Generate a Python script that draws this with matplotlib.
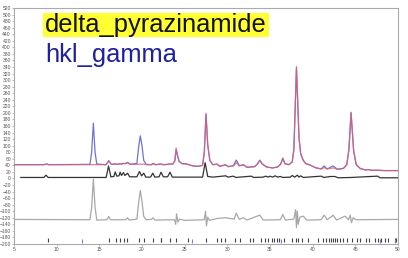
import matplotlib
matplotlib.use("Agg")
import matplotlib.pyplot as plt
from matplotlib.patches import Rectangle

plt.rcParams["font.family"] = ["Liberation Sans", "DejaVu Sans"]

# ── data (2theta in degrees, counts) ──────────────────────────────
CALC_X = [5.0, 8.5, 8.8, 9.1, 15.8, 16.1, 16.4, 16.9, 17.1, 17.45, 17.65,
          17.85, 18.05, 18.3, 18.6, 19.6, 19.8, 20.0, 20.2, 20.5, 21.1, 21.3,
          21.6, 22.2, 22.5, 23.0, 23.3, 23.6, 23.85, 24.0, 24.15, 24.35, 24.7,
          25.1, 25.5, 26.0, 26.6, 27.1, 27.3, 27.5, 27.7, 27.95, 28.3, 28.8,
          29.1, 29.8, 30.1, 30.7, 31.05, 31.4, 31.9, 32.3, 33.2, 33.55, 33.8,
          34.1, 34.6, 35.3, 35.9, 36.25, 36.5, 36.75, 37.2, 37.6, 37.8, 38.1,
          38.4, 38.6, 38.9, 39.2, 39.7, 40.3, 41.0, 41.35, 41.7, 42.4, 42.9,
          43.6, 44.0, 44.25, 44.5, 44.8, 45.1, 45.6, 46.2, 46.5, 46.9, 47.6,
          48.4, 49.2, 50.0]
CALC_Y = [42, 42, 44, 42, 42, 54, 43, 44, 43, 45, 44,
          46, 45, 48, 43, 43, 44, 43, 44, 42, 42, 45,
          42, 44, 42, 43, 44, 44, 55, 93, 72, 52, 45,
          44, 42, 38, 37, 40, 80, 199, 105, 55, 42, 43,
          37, 41, 36, 38, 48, 38, 41, 34, 36, 45, 55,
          44, 35, 32, 35, 43, 61, 45, 42, 50, 90, 341,
          125, 75, 55, 45, 41, 33, 29, 33, 29, 32, 28,
          30, 42, 90, 202, 85, 42, 30, 26, 27, 25, 25,
          24, 24, 24]

OBS_X = [5.0, 8.5, 8.8, 9.1, 13.9, 14.1, 14.3, 14.5, 14.7, 15.8, 16.1, 16.4,
         16.9, 17.1, 17.45, 17.65, 17.85, 18.05, 18.3, 18.6, 19.4, 19.6, 19.8,
         20.0, 20.2, 20.5, 21.1, 21.3, 21.6, 22.2, 22.5, 23.0, 23.3, 23.6,
         23.85, 24.0, 24.15, 24.35, 24.7, 25.1, 25.5, 26.0, 26.6, 27.1, 27.3,
         27.5, 27.7, 27.95, 28.3, 28.8, 29.1, 29.8, 30.1, 30.7, 31.05, 31.4,
         31.9, 32.3, 33.2, 33.55, 33.8, 34.1, 34.6, 35.3, 35.9, 36.25, 36.5,
         36.75, 37.2, 37.6, 37.8, 38.1, 38.4, 38.6, 38.9, 39.2, 39.7, 40.3,
         41.0, 41.35, 41.7, 42.4, 42.9, 43.6, 44.0, 44.25, 44.5, 44.8, 45.1,
         45.6, 46.2, 46.5, 46.9, 47.6, 48.4, 49.2, 50.0]
OBS_Y = [42, 42, 44, 42, 43, 80, 169, 80, 44, 42, 54, 43,
         44, 43, 45, 44, 46, 45, 49, 43, 46, 95, 130,
         100, 55, 43, 42, 46, 42, 44, 42, 43, 44, 44,
         53, 88, 70, 52, 45, 45, 42, 38, 37, 40, 78,
         195, 102, 55, 42, 44, 37, 42, 36, 39, 56, 39,
         42, 34, 36, 45, 56, 44, 35, 32, 35, 44, 62,
         45, 42, 50, 88, 338, 122, 75, 55, 45, 41, 33,
         29, 38, 29, 38, 28, 31, 42, 88, 200, 84, 42,
         30, 26, 27, 25, 25, 24, 24, 24]

PHASE_X = [5.8, 8.5, 8.75, 9.0, 15.8, 16.08, 16.35, 16.7, 16.86, 17.05, 17.3,
           17.44, 17.6, 17.83, 18.0, 18.3, 18.55, 19.4, 19.7, 19.95, 20.2,
           20.45, 21.0, 21.26, 21.5, 22.0, 22.23, 22.5, 23.0, 23.28, 23.55,
           27.1, 27.4, 27.7, 28.3, 29.8, 30.1, 30.7, 31.0, 32.8, 33.1, 34.2,
           34.5, 34.8, 35.0, 35.3, 35.6, 35.9, 36.2, 36.5, 37.4, 37.6, 37.9,
           38.2, 38.4, 38.6, 38.9, 41.0, 41.3, 42.1, 42.6, 43.0, 44.5, 47.6,
           47.9, 50.0]
PHASE_Y = [3, 3, 10, 3, 3, 38, 5, 6, 20, 7, 8,
           19, 9, 18, 9, 16, 5, 5, 21, 8, 16,
           4, 4, 16, 4, 5, 19, 5, 5, 19, 4,
           4, 48, 6, 4, 8, 4, 7, 3, 7, 3, 4,
           7, 4, 7, 4, 8, 4, 6, 3, 4, 9, 4,
           10, 4, 8, 3, 7, 3, 6, 6, 2, 3, 7,
           2, 2]

DIFF_X = [5.0, 13.9, 14.1, 14.3, 14.5, 14.7, 15.9, 16.1, 16.3, 18.1, 18.3,
          18.5, 19.4, 19.6, 19.8, 20.0, 20.2, 20.5, 21.1, 21.3, 21.5, 23.8,
          23.95, 24.05, 24.2, 24.4, 25.0, 27.3, 27.45, 27.55, 27.7, 27.9, 28.8,
          29.8, 30.8, 31.05, 31.4, 31.9, 32.3, 33.8, 34.2, 36.2, 36.5, 36.8,
          37.8, 38.0, 38.1, 38.2, 38.3, 38.5, 38.9, 39.3, 41.0, 41.35, 41.7,
          42.4, 42.8, 43.8, 44.2, 44.4, 44.55, 44.75, 45.1, 50.0]
DIFF_Y = [-125, -126, -88, -2, -88, -127, -126, -116, -126, -126, -120,
          -127, -124, -75, -37, -70, -116, -126, -125, -120, -127, -126,
          -140, -108, -133, -124, -128, -126, -100, -145, -118, -128, -122,
          -120, -124, -106, -125, -120, -127, -112, -127, -126, -110, -127,
          -124, -95, -150, -100, -140, -118, -115, -127, -126, -112, -126,
          -112, -127, -115, -126, -112, -135, -120, -126, -125]

TICKS_DELTA = [9.0, 16.1, 17.0, 17.45, 17.85, 18.3, 19.7, 20.2, 21.3, 22.2,
               22.25, 23.3, 24.0, 25.4, 27.45, 28.8, 29.3, 29.7, 30.9, 31.5,
               32.6, 33.0, 34.0, 34.4, 34.8, 35.2, 35.5, 35.8, 36.1, 36.6,
               37.6, 38.0, 38.3, 38.7, 39.4, 40.6, 41.2, 41.6, 41.9, 42.2,
               42.4, 42.6, 42.9, 43.2, 43.6, 44.0, 44.6, 45.2, 45.6, 46.2,
               46.6, 47.3, 47.6, 48.0, 48.5, 48.8, 49.6, 49.8]
TICKS_GAMMA = [13.0, 25.9, 36.3, 47.9, 49.7]
TICK_LEVEL = -187

X_TICKS = list(range(5, 51, 5))
Y_TICKS = list(range(-200, 521, 20))

# ── figure ────────────────────────────────────────────────────────
fig = plt.figure(figsize=(4.08, 2.58), dpi=100)
ax = fig.add_axes([14 / 408, 14 / 258, 384 / 408, 236 / 258])

ax.plot(OBS_X, OBS_Y, color="#7272d0", lw=0.9, zorder=3)
ax.plot(CALC_X, CALC_Y, color="#d8607a", lw=0.9, alpha=0.8, zorder=4)
ax.plot(PHASE_X, PHASE_Y, color="#333333", lw=0.9, zorder=3)
ax.plot(DIFF_X, DIFF_Y, color="#a8a8a8", lw=0.9, zorder=3)
ax.plot(TICKS_DELTA, [TICK_LEVEL] * len(TICKS_DELTA), ls="none",
        marker="|", ms=2.2, mew=0.8, color="#444444")
ax.plot(TICKS_GAMMA, [TICK_LEVEL - 4] * len(TICKS_GAMMA), ls="none",
        marker="|", ms=2.2, mew=0.8, color="#8080c0")

ax.set_xlim(5, 50)
ax.set_ylim(-200, 520)
ax.set_xticks(X_TICKS)
ax.set_yticks(Y_TICKS)
ax.tick_params(axis="both", length=1.2, width=0.4, colors="#888888",
               labelcolor="#555555", labelsize=3.6, pad=1)
for s in ax.spines.values():
    s.set_color("#aaaaaa")
    s.set_linewidth(0.8)

# legend block: yellow highlight + two phase names
fig.add_artist(Rectangle((43 / 408, 1 - 37 / 258), 226 / 408, 24 / 258,
                         transform=fig.transFigure, facecolor="#ffff33",
                         edgecolor="none", zorder=5))
fig.text(45 / 408, 1 - 32 / 258, "delta_pyrazinamide", fontsize=18.4,
         color="#111111", va="baseline", ha="left", zorder=6)
fig.text(45 / 408, 1 - 62 / 258, "hkl_gamma", fontsize=18.4,
         color="#1f1fa5", va="baseline", ha="left", zorder=6)

fig.savefig("out.png", dpi=100)
